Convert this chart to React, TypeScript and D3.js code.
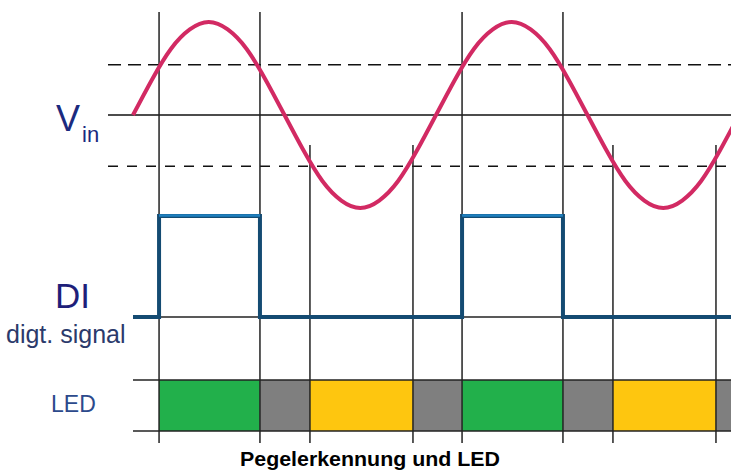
import React, { useEffect, useRef } from 'react';
import * as d3 from 'd3';

// time in ms (one period = 20 ms) (normalised)
const sineTimes = [0, 1.25, 2.5, 3.75, 5, 6.25, 7.5, 8.75, 10, 11.25, 12.5, 13.75, 15, 16.25, 17.5, 18.75,
  20, 21.25, 22.5, 23.75, 25, 26.25, 27.5, 28.75, 30, 31.25, 32.5, 33.75, 35, 36.25, 37.5, 38.75, 40];
const sineValues = [0, 0.38, 0.71, 0.92, 1, 0.92, 0.71, 0.38, 0, -0.38, -0.71, -0.92, -1, -0.92, -0.71, -0.38,
  0, 0.38, 0.71, 0.92, 1, 0.92, 0.71, 0.38, 0, -0.38, -0.71, -0.92, -1, -0.92, -0.71, -0.38, 0];

const upperThreshold = 0.54;
const lowerThreshold = -0.55;

// switching instants (ms) where the sine crosses a threshold
const upperCrossings = [1.72, 8.38, 21.72, 28.38];
const lowerCrossings = [11.68, 18.48, 31.68, 38.48];

// digital input: time, level
const diTimes = [0, 1.72, 8.38, 21.72, 28.38, 40];
const diLevels = [0, 1, 0, 1, 0, 0];

// LED states between the switching instants
const ledStart = [1.72, 8.38, 11.68, 18.48, 21.72, 28.38, 31.68, 38.48];
const ledEnd = [8.38, 11.68, 18.48, 21.72, 28.38, 31.68, 38.48, 42];
const ledState = ['green', 'off', 'yellow', 'off', 'green', 'off', 'yellow', 'off'];

const ledColors = { green: '#22b04b', off: '#7f7f7f', yellow: '#fec60f' };

const W = 731;
const H = 471;

const App = () => {
  const svgRef = useRef(null);

  useEffect(() => {
    const svg = d3.select(svgRef.current);
    svg.selectAll('*').remove();

    const x = d3.scaleLinear().domain([0, 20]).range([133, 436]);
    const yV = d3.scaleLinear().domain([-1, 1]).range([208, 22]);
    const yDI = d3.scaleLinear().domain([0, 1]).range([317, 216]);
    const ledTop = 380;
    const ledBottom = 431;
    const right = W;

    svg.append('defs').append('clipPath').attr('id', 'clip')
      .append('rect').attr('x', 0).attr('y', 0).attr('width', right).attr('height', H);

    const g = svg.append('g').attr('clip-path', 'url(#clip)');

    // LED blocks
    g.selectAll('rect.led')
      .data(ledState)
      .join('rect')
      .attr('class', 'led')
      .attr('x', (d, i) => x(ledStart[i]))
      .attr('y', ledTop)
      .attr('width', (d, i) => x(ledEnd[i]) - x(ledStart[i]))
      .attr('height', ledBottom - ledTop)
      .style('fill', d => ledColors[d]);

    // horizontal reference lines
    g.append('line')
      .attr('x1', 108).attr('x2', right)
      .attr('y1', yV(upperThreshold)).attr('y2', yV(upperThreshold))
      .style('stroke', '#111').style('stroke-width', 1.5)
      .style('stroke-dasharray', '13,7');
    g.append('line')
      .attr('x1', 108).attr('x2', right)
      .attr('y1', yV(0)).attr('y2', yV(0))
      .style('stroke', '#111').style('stroke-width', 1.5);
    g.append('line')
      .attr('x1', 108).attr('x2', right)
      .attr('y1', yV(lowerThreshold)).attr('y2', yV(lowerThreshold))
      .style('stroke', '#111').style('stroke-width', 1.5)
      .style('stroke-dasharray', '10,9');

    [yDI(0), ledTop, ledBottom].forEach(yy => {
      g.append('line')
        .attr('x1', 133).attr('x2', right)
        .attr('y1', yy).attr('y2', yy)
        .style('stroke', '#222').style('stroke-width', 1.5);
    });

    // vertical switching lines
    g.selectAll('line.up')
      .data(upperCrossings)
      .join('line')
      .attr('class', 'up')
      .attr('x1', d => x(d)).attr('x2', d => x(d))
      .attr('y1', 12).attr('y2', 443)
      .style('stroke', '#222').style('stroke-width', 1.5);
    g.selectAll('line.low')
      .data(lowerCrossings)
      .join('line')
      .attr('class', 'low')
      .attr('x1', d => x(d)).attr('x2', d => x(d))
      .attr('y1', 145).attr('y2', 443)
      .style('stroke', '#222').style('stroke-width', 1.5);

    // sine input
    const sineLine = d3.line()
      .x((d, i) => x(sineTimes[i]))
      .y(d => yV(d))
      .curve(d3.curveNatural);
    g.append('path')
      .datum(sineValues)
      .attr('d', sineLine)
      .style('fill', 'none')
      .style('stroke', '#d22a63')
      .style('stroke-width', 4);

    // digital signal
    const diLine = d3.line()
      .x((d, i) => x(diTimes[i]))
      .y(d => yDI(d))
      .curve(d3.curveStepAfter);
    g.append('path')
      .datum(diLevels)
      .attr('d', diLine)
      .style('fill', 'none')
      .style('stroke', '#144b72')
      .style('stroke-width', 4);
    // lighter highlight on the high level only
    const highIdx = d3.range(diLevels.length - 1).filter(i => diLevels[i] === 1);
    g.selectAll('line.hi')
      .data(highIdx)
      .join('line')
      .attr('class', 'hi')
      .attr('x1', i => x(diTimes[i]))
      .attr('x2', i => x(diTimes[i + 1]))
      .attr('y1', yDI(1) - 0.5).attr('y2', yDI(1) - 0.5)
      .style('stroke', '#1f80c0').style('stroke-width', 2.5);

    // labels
    const font = 'Liberation Sans, Arial, sans-serif';
    svg.append('text').attr('x', 56).attr('y', 131)
      .style('font-family', font).style('font-size', '36px').style('fill', '#1b2a7e')
      .text('V');
    svg.append('text').attr('x', 82).attr('y', 142)
      .style('font-family', font).style('font-size', '22px').style('fill', '#1b2a7e')
      .text('in');
    svg.append('text').attr('x', 55).attr('y', 308)
      .style('font-family', font).style('font-size', '35px').style('fill', '#1e1f7a')
      .text('DI');
    svg.append('text').attr('x', 6).attr('y', 343)
      .style('font-family', font).style('font-size', '25px').style('fill', '#2b3a6b')
      .text('digt. signal');
    svg.append('text').attr('x', 51).attr('y', 412)
      .style('font-family', font).style('font-size', '23px').style('fill', '#2c4a8c')
      .text('LED');
    svg.append('text').attr('x', 240).attr('y', 466)
      .attr('textLength', 260).attr('lengthAdjust', 'spacingAndGlyphs')
      .style('font-family', font).style('font-size', '21px').style('font-weight', 'bold')
      .style('fill', '#000')
      .text('Pegelerkennung und LED');
  }, []);

  return (
    <svg ref={svgRef} width={W} height={H}
      style={{ position: 'absolute', left: 0, top: 0, background: '#fff' }}></svg>
  );
};

export default App;
